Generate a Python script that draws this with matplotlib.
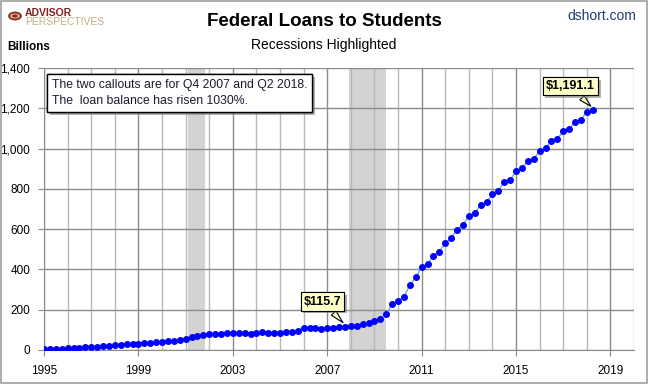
import matplotlib
matplotlib.use('Agg')
import matplotlib.pyplot as plt
import matplotlib.patheffects as pe
from matplotlib.patches import Rectangle, Circle
import numpy as np

plt.rcParams['font.family'] = ['Liberation Sans', 'DejaVu Sans']

# Quarterly federal student loans, billions, 1995 Q1 .. 2018 Q2
start_year = 1995
loans = [
    6, 6, 7, 7,            # 1995
    9, 10, 12, 13,         # 1996
    15, 17, 20, 21,        # 1997
    24, 26, 28, 30,        # 1998
    32, 34, 36, 38,        # 1999
    40, 43, 45, 48,        # 2000
    56, 64, 70, 75,        # 2001
    78, 80, 80, 82,        # 2002
    82, 82, 82, 81,        # 2003
    85, 87, 86, 86,        # 2004
    86, 87, 89, 92,        # 2005
    111, 111, 108, 105,    # 2006
    108, 111, 113, 115.7,  # 2007
    119, 118, 128, 133,    # 2008
    142, 153, 178, 228,    # 2009
    243, 262, 322, 360,    # 2010
    411, 426, 469, 489,    # 2011
    529, 554, 598, 620,    # 2012
    665, 680, 719, 734,    # 2013
    772, 790, 834, 843,    # 2014
    888, 903, 938, 948,    # 2015
    987, 1002, 1038, 1049, # 2016
    1085, 1097, 1134, 1144,# 2017
    1181, 1191.1,          # 2018
]
recessions = [(2001.1, 2001.83), (2007.92, 2009.5)]
xtick_labels = ['1995', '1999', '2003', '2007', '2011', '2015', '2019']
ytick_values = [0, 200, 400, 600, 800, 1000, 1200, 1400]
callout_texts = ['$115.7', '$1,191.1']
callout_index = [51, 93]

x = start_year + np.arange(len(loans)) / 4.0

fig = plt.figure(figsize=(6.48, 3.84), dpi=100)
ax = fig.add_axes([44/648, 34/384, 590/648, 282/384])

for a, b in recessions:
    ax.axvspan(a, b, color='#d3d3d3', lw=0, zorder=1)

ax.set_xlim(1995, 2020)
ax.set_ylim(0, 1400)
ax.set_axisbelow('line')
ax.set_xticks([int(t) for t in xtick_labels])
ax.set_xticklabels(xtick_labels)
ax.set_xticks(np.arange(1995, 2021), minor=True)
ax.set_yticks(ytick_values)
ax.set_yticklabels([f'{v:,}' for v in ytick_values])
ax.grid(True, which='major', axis='both', color='#8c8c8c', lw=1)
ax.grid(True, which='minor', axis='x', color='#b8b8b8', lw=1)
ax.tick_params(axis='x', which='major', length=4, pad=7, labelsize=8.5, color='#8c8c8c')
ax.tick_params(axis='x', which='minor', length=0)
ax.tick_params(axis='y', length=4, pad=6, labelsize=8.5, color='#8c8c8c')
for s in ['top', 'right']:
    ax.spines[s].set_visible(False)
for s in ['left', 'bottom']:
    ax.spines[s].set_color('#8c8c8c')

ax.plot(x, loans, color='#7aa6d6', lw=1, marker='o', markersize=4.0,
        markerfacecolor='#0000ff', markeredgecolor='#0000ff', zorder=3)

shadow = [pe.withSimplePatchShadow(offset=(2, -2), shadow_rgbFace='#808080', alpha=0.6), pe.Normal()]

note = ax.text(0.013, 0.962, 'The two callouts are for Q4 2007 and Q2 2018.\nThe  loan balance has risen 1030%.',
               transform=ax.transAxes, ha='left', va='top', fontsize=8.8, linespacing=1.5,
               color='#1a1a2e',
               bbox=dict(boxstyle='square,pad=0.4', fc='white', ec='black', lw=1), zorder=5)
note.get_bbox_patch().set_path_effects(shadow)

offsets = [(-0.95, 125), (-0.95, 118)]
for txt, idx, (dx, dy) in zip(callout_texts, callout_index, offsets):
    xv, yv = x[idx], loans[idx]
    an = ax.annotate(txt, xy=(xv, yv + 10), xytext=(xv + dx, yv + dy),
                     ha='center', va='center', fontsize=9, fontweight='bold',
                     bbox=dict(boxstyle='square,pad=0.25', fc='#ffffc8', ec='black', lw=0.8),
                     arrowprops=dict(arrowstyle='wedge,tail_width=0.5,shrink_factor=0.5',
                                     fc='#ffffc8', ec='black', lw=0.8), zorder=6)
    an.get_bbox_patch().set_path_effects(shadow)

fig.text(0.5, 1 - 22/384, 'Federal Loans to Students', ha='center', va='center',
         fontsize=13.5, fontweight='bold')
fig.text(0.5, 1 - 45/384, 'Recessions Highlighted', ha='center', va='center', fontsize=10)
fig.text(7/648, 1 - 47/384, 'Billions', ha='left', va='center', fontsize=8.5, fontweight='bold')
fig.text(636/648, 1 - 16/384, 'dshort.com', ha='right', va='center', fontsize=10, color='#1f3c78')

# logo
fig.text(25/648, 1 - 13/384, 'ADVISOR', ha='left', va='center', fontsize=7.5,
         fontweight='bold', color='#8b1e1e')
fig.text(25/648, 1 - 22/384, 'PERSPECTIVES', ha='left', va='center', fontsize=7.5,
         color='#c4ae84')
fig.patches.append(Circle((15/648, 1 - 16/384), 6/648, transform=fig.transFigure,
                          fc='#c4ae84', ec='#8b1e1e', lw=1.2))
fig.patches.append(Circle((15/648, 1 - 16/384), 2.5/648, transform=fig.transFigure,
                          fc='#8b1e1e', ec='none'))

fig.patches.append(Rectangle((0.001, 0.002), 0.997, 0.996, transform=fig.transFigure,
                             fill=False, ec='#a0a0a0', lw=1.2))

fig.savefig('out.png', dpi=100)
